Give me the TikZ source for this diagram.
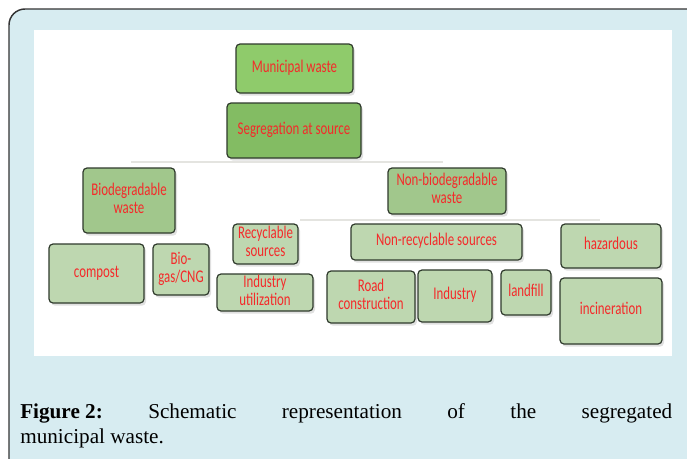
\documentclass[tikz,border=0pt]{standalone}
\usepackage{fontspec}
\setmainfont{Liberation Serif}
\newfontfamily\boxfont{Carlito}
\usetikzlibrary{shadows}
\definecolor{framefill}{HTML}{D7ECF1}
\definecolor{frameline}{HTML}{333333}
\definecolor{mungreen}{HTML}{8FCB6B}
\definecolor{seggreen}{HTML}{83BC63}
\definecolor{midgreen}{HTML}{A1C78C}
\definecolor{lightgreen}{HTML}{BED7B0}
\definecolor{boxline}{HTML}{2F3A2C}
\definecolor{boxred}{HTML}{F42A2A}
\definecolor{faint}{HTML}{E4E4E0}
\newcommand{\bt}[1]{\scalebox{0.72}[1]{\begin{tabular}{@{}c@{}}#1\end{tabular}}}
\tikzset{
  wbox/.style 2 args={draw=boxline, line width=0.9pt, rounded corners=3pt,
    inner sep=0pt, text=boxred,
    font=\boxfont\fontsize{13.4pt}{13.6pt}\selectfont,
    minimum width=#1*0.75pt, minimum height=#2*0.75pt,
    drop shadow={shadow xshift=1.5pt, shadow yshift=-2pt, opacity=0.12, fill=black}},
  faintline/.style={draw=faint, line width=0.8pt},
  captext/.style={anchor=base west, inner sep=0pt, font=\fontsize{15.9pt}{18.75pt}\selectfont}
}
\begin{document}
\begin{tikzpicture}[x=0.75pt, y=-0.75pt]
\useasboundingbox (0,0) rectangle (687,458);
\clip (0,0) rectangle (687,458);
% outer frame
\draw[fill=framefill, draw=frameline, line width=1.1pt, rounded corners=12pt]
  (9,9) rectangle (720,480);
% white picture area
\fill[white] (34,30) rectangle (672,356);
% faint lines
\coordinate (l1a) at (131,162);
\coordinate (l1b) at (443,162);
\coordinate (l2a) at (300,220);
\coordinate (l2b) at (600,220);
\draw[faintline] (l1a) -- (l1b);
\draw[faintline] (l2a) -- (l2b);
% boxes
\node[wbox={117}{49}, fill=mungreen] (mun) at (294.5,68.5) {\bt{Municipal waste}};
\node[wbox={134}{55}, fill=seggreen] (seg) at (294,130.5) {\bt{Segregation at source}};
\node[wbox={92}{65}, fill=midgreen] (bio) at (129,200.5) {\bt{Biodegradable\\waste}};
\node[wbox={118}{46}, fill=midgreen] (nonbio) at (447,191) {\bt{Non-biodegradable\\waste}};
\node[wbox={95}{59}, fill=lightgreen] (compost) at (96.5,273.5) {\bt{compost}};
\node[wbox={56}{51}, fill=lightgreen] (biogas) at (181,269.5) {\bt{Bio-\\gas/CNG}};
\node[wbox={65}{40}, fill=lightgreen] (recyc) at (265.5,244) {\bt{Recyclable\\sources}};
\node[wbox={96}{37}, fill=lightgreen] (indutil) at (265,292.5) {\bt{Industry\\utilization}};
\node[wbox={171}{36}, fill=lightgreen] (nonrecyc) at (436.5,242) {\bt{Non-recyclable sources}};
\node[wbox={88}{52}, fill=lightgreen] (road) at (371,297) {\bt{Road\\construction}};
\node[wbox={74}{52}, fill=lightgreen] (industry) at (455,296) {\bt{Industry}};
\node[wbox={50}{45}, fill=lightgreen] (landfill) at (526,292.5) {\bt{landfill}};
\node[wbox={100}{44}, fill=lightgreen] (hazard) at (611,246) {\bt{hazardous}};
\node[wbox={102}{66}, fill=lightgreen] (incin) at (611,311) {\bt{incineration}};
% caption
\node[captext] (cap1) at (20,418)
  {\makebox[489pt][s]{\mbox{\textbf{Figure 2:}} Schematic representation of the segregated}};
\node[captext] (cap2) at (20,443) {municipal waste.};
\end{tikzpicture}
\end{document}
